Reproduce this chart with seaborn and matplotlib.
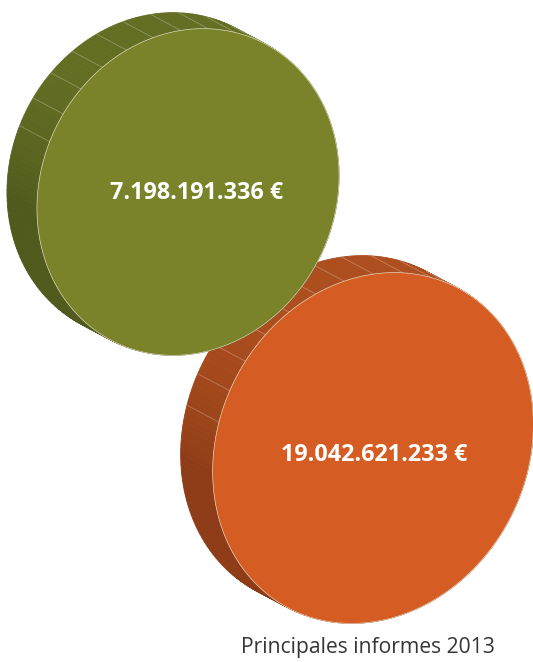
import numpy as np
import matplotlib
matplotlib.use("Agg")
import matplotlib.pyplot as plt
from matplotlib.patches import Polygon
from matplotlib.colors import to_rgb
import seaborn as sns

# --- data -------------------------------------------------------------
amounts = [19042621233, 7198191336]          # euros
face_colors = ["#d55d24", "#7a832a"]
rim_light = ["#ad4e1e", "#646e23"]
rim_dark = ["#8e3c17", "#505a1c"]
caption = "Principales informes 2013"

# --- layout (pixel space, y grows downward) ---------------------------
centers = [(373, 448), (188, 192)]
semi_major = [181, 167]
semi_minor = [154, 147]
tilt_deg = [-62, -64]
depth = [(-32, -17), (-30, -16)]
label_pos = [(374, 455), (197, 193)]


def fmt_eur(v):
    return f"{v:,}".replace(",", ".") + " €"


def ring(c, a, b, th, t):
    th = np.radians(th)
    u = np.array([np.cos(th), np.sin(th)])
    v = np.array([-np.sin(th), np.cos(th)])
    pts = (np.asarray(c)[None, :]
           + (a * np.cos(t))[:, None] * u[None, :]
           + (b * np.sin(t))[:, None] * v[None, :])
    nrm = (np.cos(t) / a)[:, None] * u[None, :] + (np.sin(t) / b)[:, None] * v[None, :]
    nrm /= np.linalg.norm(nrm, axis=1, keepdims=True)
    return pts, nrm


def draw_coin(ax, c, a, b, th, d, face, light, dark, label, lpos):
    nfac = 34
    sub = 6
    tf = np.linspace(0, 2 * np.pi, nfac * sub + 1)
    front, _ = ring(c, a, b, th, tf)
    back = front + np.asarray(d)[None, :]
    tm = 0.5 * (tf[:-1] + tf[1:])
    _, nm = ring(c, a, b, th, tm)
    lo, hi = np.array(to_rgb(dark)), np.array(to_rgb(light))
    # side of the coin, shaded by how much each strip faces upward
    for k in range(len(tm)):
        s = np.clip(-nm[k, 1] * 1.4, 0, 1) ** 0.7
        col = lo + (hi - lo) * s
        quad = [back[k], back[k + 1], front[k + 1], front[k]]
        ax.add_patch(Polygon(quad, closed=True, facecolor=col,
                             edgecolor=col, linewidth=0.6, zorder=2))
    # facet seams on the upper part of the edge
    tk = np.linspace(0, 2 * np.pi, nfac + 1)
    fk, nk = ring(c, a, b, th, tk)
    bk = fk + np.asarray(d)[None, :]
    for k in range(nfac):
        if -nk[k, 1] > 0.22:
            ax.plot([bk[k, 0], fk[k, 0]], [bk[k, 1], fk[k, 1]],
                    color="white", alpha=0.28, lw=0.6, zorder=3)
    # coin face
    tt = np.linspace(0, 2 * np.pi, 400)
    fp, _ = ring(c, a, b, th, tt)
    ax.add_patch(Polygon(fp, closed=True, facecolor=face,
                         edgecolor="#e8e0c8", linewidth=0.45, zorder=4))
    ax.text(lpos[0], lpos[1], label, color="white", fontsize=16.8,
            fontweight="bold", family=["Open Sans", "DejaVu Sans"],
            ha="center", va="center", zorder=5)


sns.set_theme(style="white")
plt.rcParams["font.family"] = ["Open Sans", "DejaVu Sans"]

fig = plt.figure(figsize=(5.33, 6.62), dpi=100)
ax = fig.add_axes([0, 0, 1, 1])
ax.set_xlim(0, 533)
ax.set_ylim(662, 0)
ax.axis("off")

for i, v in enumerate(amounts):
    draw_coin(ax, centers[i], semi_major[i], semi_minor[i], tilt_deg[i],
              depth[i], face_colors[i], rim_light[i], rim_dark[i],
              fmt_eur(v), label_pos[i])

ax.text(368, 648, caption, color="#363636", fontsize=15.2,
        ha="center", va="center", zorder=6)

fig.savefig("out.png", dpi=100, facecolor="white")
